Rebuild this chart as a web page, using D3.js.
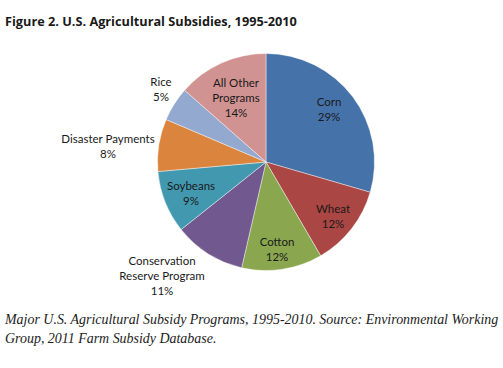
<!DOCTYPE html>
<html><head><meta charset="utf-8">
<script src="https://cdn.jsdelivr.net/npm/d3@7"></script>
<style>body{margin:0;background:#fff;}svg{display:block;}</style>
</head><body>
<script>
const categories = ["Corn","Wheat","Cotton","Conservation Reserve Program","Soybeans","Disaster Payments","Rice","All Other Programs"];
const values = [29.5, 12.1, 12.0, 10.7, 9.3, 7.8, 5.1, 13.5];
const percentLabels = ["29%","12%","12%","11%","9%","8%","5%","14%"];
const labelLines = [["Corn"],["Wheat"],["Cotton"],["Conservation","Reserve Program"],["Soybeans"],["Disaster Payments"],["Rice"],["All Other","Programs"]];
const colors = ["#4672AA","#AA4643","#8AA64F","#71588F","#4298AF","#DB843D","#93A9CF","#D19392"];
const labelPos = [[329,109],[333,216],[277,249],[162,276],[191,193],[108,146.5],[161,89],[236,97.5]];

const W=503,H=368;
const svg=d3.select("body").append("svg").attr("width",W).attr("height",H);

function fit(sel,target){const l=sel.node().getComputedTextLength();const fs=parseFloat(sel.attr("font-size"));sel.attr("font-size",fs*target/l);}

const title=svg.append("text").attr("x",5).attr("y",26).attr("font-family","'Open Sans',sans-serif")
 .attr("font-weight","bold").attr("font-size",13).attr("fill","#1a1a1a")
 .text("Figure 2. U.S. Agricultural Subsidies, 1995-2010");
fit(title,292);

const cx=266, cy=162, r=108.5;
const pie=d3.pie().sort(null).value(d=>d)(values);
const arc=d3.arc().innerRadius(0).outerRadius(r);
const g=svg.append("g").attr("transform",`translate(${cx},${cy})`);
g.selectAll("path").data(pie).join("path").attr("d",arc)
 .attr("fill",(d,i)=>colors[i]).attr("stroke","#ffffff").attr("stroke-width",0.6).attr("stroke-opacity",0.7);

const lh=15;
categories.forEach((c,i)=>{
  const lines=labelLines[i].concat([percentLabels[i]]);
  const [x,y]=labelPos[i];
  const y0=y-(lines.length-1)*lh/2;
  const t=svg.append("text").attr("text-anchor","middle").attr("font-family","Lato,'Open Sans',sans-serif")
   .attr("font-size",11.5).attr("fill","#1a1a1a");
  lines.forEach((ln,k)=>{
    t.append("tspan").attr("x",x).attr("y",y0+k*lh).attr("dy","0.35em").text(ln);
  });
});

const cap1=svg.append("text").attr("x",5).attr("y",324).attr("font-family","'Liberation Serif',serif")
 .attr("font-style","italic").attr("font-size",13).attr("fill","#222")
 .text("Major U.S. Agricultural Subsidy Programs, 1995-2010. Source: Environmental Working");
fit(cap1,494);
svg.append("text").attr("x",5).attr("y",343).attr("font-family","'Liberation Serif',serif")
 .attr("font-style","italic").attr("font-size",cap1.attr("font-size")).attr("fill","#222")
 .text("Group, 2011 Farm Subsidy Database.");
</script>
</body></html>
